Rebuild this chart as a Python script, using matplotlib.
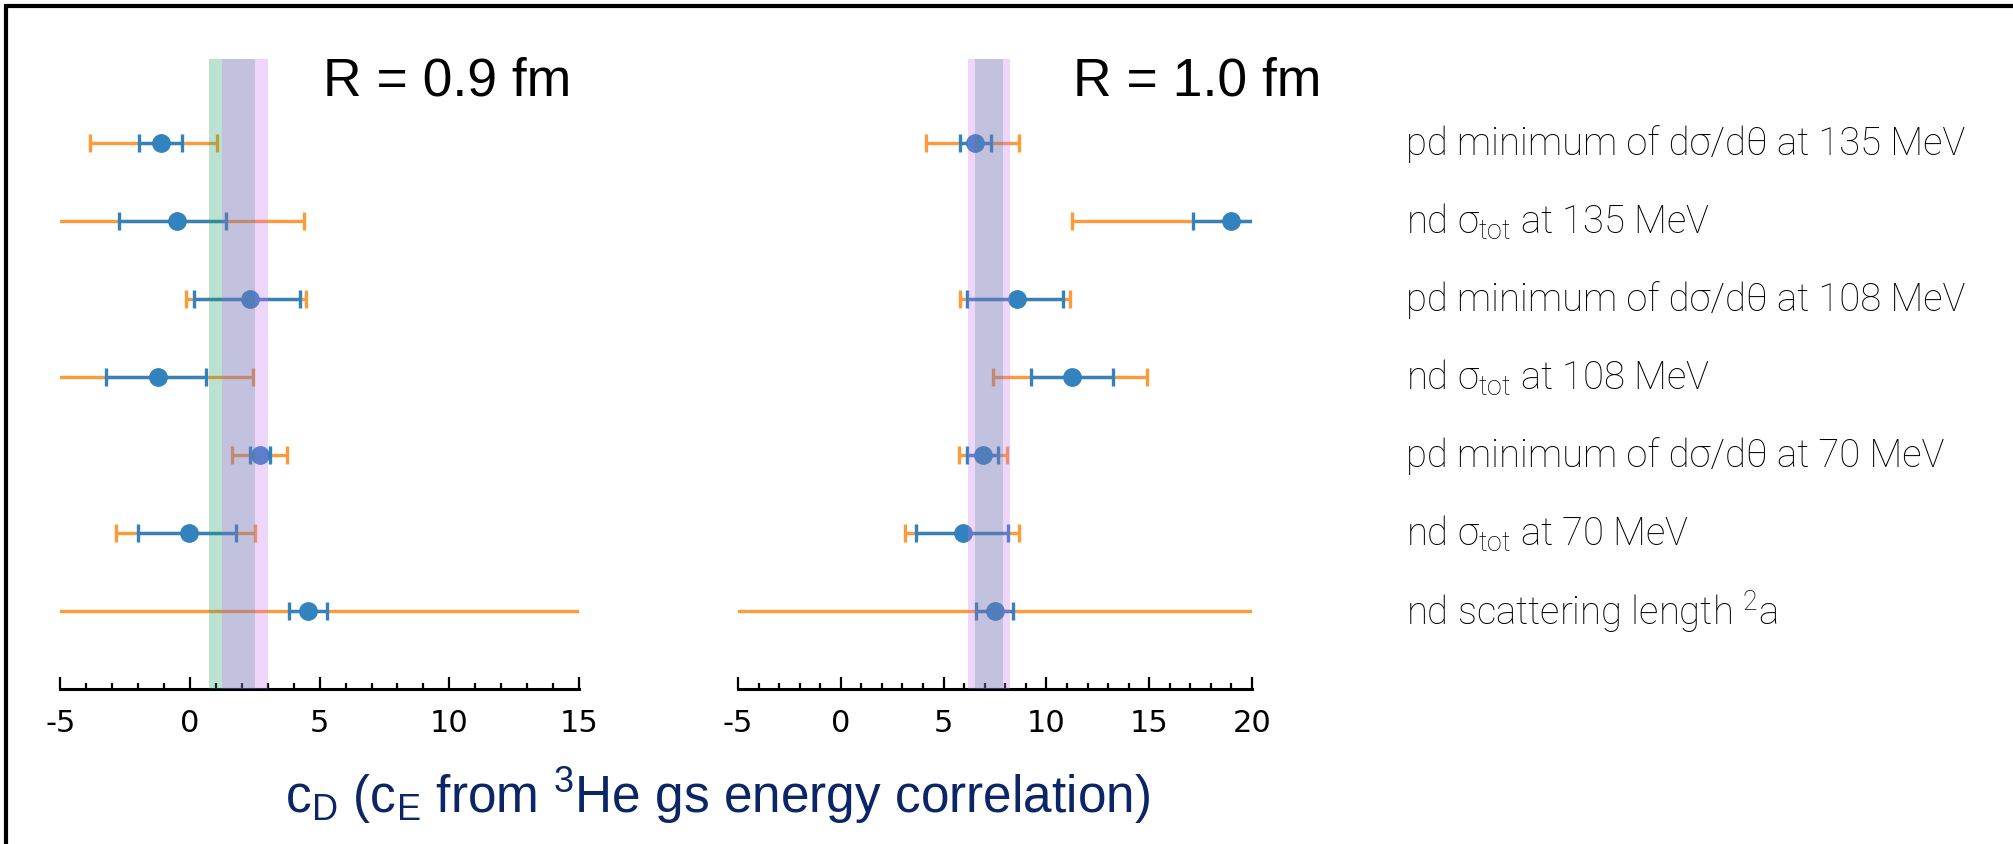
import matplotlib
matplotlib.use("Agg")
import matplotlib.pyplot as plt
import matplotlib.transforms as mtransforms
from matplotlib.lines import Line2D
from matplotlib.ticker import MultipleLocator
from matplotlib import font_manager

plt.rcParams['mathtext.default'] = 'regular'

# ---------------- data ----------------
labels = [
    r"pd minimum of dσ/dθ at 135 MeV",
    r"nd σ$_{tot}$ at 135 MeV",
    r"pd minimum of dσ/dθ at 108 MeV",
    r"nd σ$_{tot}$ at 108 MeV",
    r"pd minimum of dσ/dθ at 70 MeV",
    r"nd σ$_{tot}$ at 70 MeV",
    r"nd scattering length $^{2}$a",
]
rows = [7, 6, 5, 4, 3, 2, 1]

# R = 0.9 fm
c09 = [-1.1, -0.5, 2.3, -1.25, 2.7, -0.05, 4.55]
blue09_lo = [-1.96, -2.72, 0.16, -3.24, 2.31, -2.0, 3.82]
blue09_hi = [-0.31, 1.38, 4.24, 0.6, 3.1, 1.77, 5.3]
orng09_lo = [-3.85, -6.0, -0.16, -6.0, 1.62, -2.84, -6.0]
orng09_hi = [1.05, 4.41, 4.46, 2.43, 3.76, 2.52, 16.0]

# R = 1.0 fm
c10 = [6.55, 19.0, 8.55, 11.25, 6.9, 5.95, 7.5]
blue10_lo = [5.78, 17.14, 6.12, 9.24, 6.14, 3.68, 6.6]
blue10_hi = [7.3, 21.0, 10.82, 13.24, 7.64, 8.12, 8.39]
orng10_lo = [4.14, 11.24, 5.78, 7.41, 5.76, 3.1, -6.0]
orng10_hi = [8.68, 22.0, 11.13, 14.87, 8.06, 8.66, 21.0]

# bands: (lo, hi, colour, alpha)
bands09 = [(0.73, 1.25, (0.12, 0.63, 0.40), 0.30),
           (1.25, 2.52, (0.47, 0.47, 0.72), 0.45),
           (2.52, 3.02, (0.78, 0.47, 0.94), 0.30)]
bands10 = [(6.2, 6.55, (0.78, 0.47, 0.94), 0.30),
           (6.55, 7.88, (0.47, 0.47, 0.72), 0.45),
           (7.88, 8.24, (0.78, 0.47, 0.94), 0.30)]

titles = ["R = 0.9 fm", "R = 1.0 fm"]
xlims = [(-5, 15), (-5, 20)]
xticks = [[-5, 0, 5, 10, 15], [-5, 0, 5, 10, 15, 20]]
xlabel = r"c$_D$ (c$_E$ from $^3$He gs energy correlation)"

ORANGE = "#ff9a3a"
BLUE = "#3282be"
NAVY = "#0b2566"


def available(name):
    try:
        font_manager.findfont(font_manager.FontProperties(family=name),
                              fallback_to_default=False)
        return True
    except Exception:
        return False


narrow_ok = available('Liberation Sans Narrow')
cond_ok = available('DejaVu Sans Condensed')

W, H = 2013, 845
fig = plt.figure(figsize=(W / 100, H / 100), dpi=100)

ax1 = fig.add_axes([60.3 / W, 1 - 690 / H, (579 - 60.3) / W, (690 - 60) / H])
ax2 = fig.add_axes([738 / W, 1 - 690 / H, (1252 - 738) / W, (690 - 60) / H])

tick_family = ['DejaVu Sans Condensed', 'DejaVu Sans'] if cond_ok else ['DejaVu Sans']
tick_size = 23 if cond_ok else 22

panels = [
    (ax1, c09, blue09_lo, blue09_hi, orng09_lo, orng09_hi, bands09),
    (ax2, c10, blue10_lo, blue10_hi, orng10_lo, orng10_hi, bands10),
]
for i, (ax, c, blo, bhi, olo, ohi, bands) in enumerate(panels):
    oerr = [[ci - lo for ci, lo in zip(c, olo)], [hi - ci for ci, hi in zip(c, ohi)]]
    berr = [[ci - lo for ci, lo in zip(c, blo)], [hi - ci for ci, hi in zip(c, bhi)]]
    ax.errorbar(c, rows, xerr=oerr, fmt='none', ecolor=ORANGE, elinewidth=2.4,
                capsize=6.5, capthick=2.4, zorder=2)
    ax.errorbar(c, rows, xerr=berr, fmt='o', color=BLUE, ecolor=BLUE, elinewidth=2.4,
                capsize=6.5, capthick=2.4, markersize=12.5, zorder=3)
    for lo, hi, col, a in bands:
        ax.axvspan(lo, hi, color=col, alpha=a, lw=0, zorder=4)
    ax.set_xlim(*xlims[i])
    ax.set_ylim(0, 8.077)
    for s in ['top', 'left', 'right']:
        ax.spines[s].set_visible(False)
    ax.spines['bottom'].set_linewidth(2.2)
    ax.set_yticks([])
    ax.set_xticks(xticks[i])
    ax.xaxis.set_minor_locator(MultipleLocator(1))
    ax.tick_params(axis='x', which='major', direction='in', length=8.5, width=1.6,
                   pad=14)
    ax.tick_params(axis='x', which='minor', direction='in', length=4, width=1.6)
    ax.set_xticklabels([str(t) for t in xticks[i]], family=tick_family,
                       fontsize=tick_size)
    ax.patch.set_alpha(0)

# titles
fig.text(447.5 / W, 1 - 81 / H, titles[0], ha='center', va='center',
         fontsize=38.5, family='Liberation Sans')
fig.text(1197 / W, 1 - 81 / H, titles[1], ha='center', va='center',
         fontsize=38.5, family='Liberation Sans')

# row labels
trans = mtransforms.blended_transform_factory(fig.transFigure, ax2.transData)
for r, lab in zip(rows, labels):
    fig.text(1406 / W, r, lab, transform=trans, ha='left', va='center',
             fontsize=27.5, family=['Roboto', 'DejaVu Sans'], fontweight='light',
             color='black')

# x label
if narrow_ok:
    fig.text(718 / W, 1 - 796 / H, xlabel, ha='center', va='center', fontsize=40,
             color=NAVY, family=['Liberation Sans Narrow', 'Liberation Sans'])
else:
    fig.text(718 / W, 1 - 796 / H, xlabel, ha='center', va='center', fontsize=37,
             color=NAVY, family=['Liberation Sans'])

# outer frame (top and left)
fig.add_artist(Line2D([5.5 / W, 1.0], [1 - 7 / H, 1 - 7 / H], transform=fig.transFigure,
                      color='black', lw=3, solid_capstyle='butt'))
fig.add_artist(Line2D([5.5 / W, 5.5 / W], [0, 1 - 5 / H], transform=fig.transFigure,
                      color='black', lw=3, solid_capstyle='butt'))

fig.savefig("out.png", dpi=100, facecolor='white')
